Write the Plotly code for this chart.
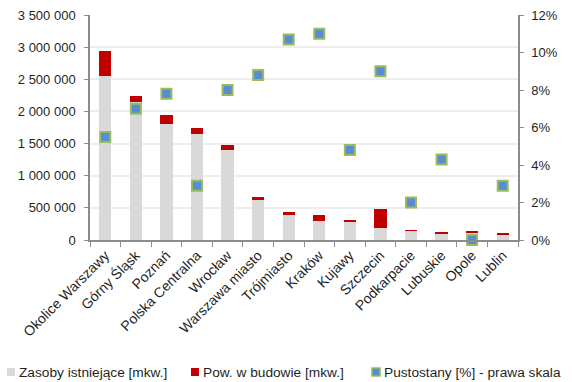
import plotly.graph_objects as go

# Regions (categories)
regions = ["Okolice Warszawy", "Górny Śląsk", "Poznań", "Polska Centralna", "Wrocław",
           "Warszawa miasto", "Trójmiasto", "Kraków", "Kujawy", "Szczecin",
           "Podkarpacie", "Lubuskie", "Opole", "Lublin"]

# Existing stock [m2]
existing = [2550000, 2150000, 1800000, 1645000, 1395000, 617000, 390000, 296000,
            285000, 187000, 145000, 104000, 105000, 89000]

# Under construction [m2]
under_construction = [395000, 95000, 140000, 97000, 88000, 47000, 50000, 93000,
                      26000, 300000, 5000, 26000, 35000, 15000]

# Vacancy rate (right axis)
vacancy = [0.055, 0.070, 0.078, 0.029, 0.080, 0.088, 0.107, 0.110,
           0.048, 0.090, 0.020, 0.043, 0.0, 0.029]

# Legend labels
legend_labels = ["Zasoby istniejące [mkw.]", "Pow. w budowie [mkw.]",
                 "Pustostany [%] - prawa skala"]

font_family = "Liberation Sans, Arial, sans-serif"
axis_grey = "#8C8C8C"
text_color = "#1F1F1F"
grey_bar = "#D9D9D9"
red_bar = "#C00000"
marker_fill = "#558ED5"
marker_edge = "#9BBB59"

W, H = 572, 382
ML, MR, MT, MB = 90, 54, 15, 142

fig = go.Figure()
fig.add_trace(go.Bar(x=regions, y=existing, name=legend_labels[0],
                     marker=dict(color=grey_bar, line=dict(width=0))))
fig.add_trace(go.Bar(x=regions, y=under_construction, name=legend_labels[1],
                     marker=dict(color=red_bar, line=dict(width=0))))
fig.add_trace(go.Scatter(x=regions, y=vacancy, name=legend_labels[2],
                         mode="markers", yaxis="y2", cliponaxis=False,
                         marker=dict(symbol="square", size=10, color=marker_fill,
                                     line=dict(color=marker_edge, width=2))))

# Legend row drawn in paper coordinates below the plot
plot_w = W - ML - MR
plot_h = H - MT - MB


def px_x(x):
    return (x - ML) / plot_w


def px_y(y):
    return (H - MB - y) / plot_h


legend_row_y = 372
legend_items = [
    (7, legend_labels[0], grey_bar, None),
    (191, legend_labels[1], red_bar, None),
    (372, legend_labels[2], marker_fill, marker_edge),
]
shapes = []
annotations = []
for x0, label, fill, edge in legend_items:
    shapes.append(dict(type="rect", xref="paper", yref="paper",
                       x0=px_x(x0), x1=px_x(x0 + 8),
                       y0=px_y(legend_row_y + 4), y1=px_y(legend_row_y - 4),
                       fillcolor=fill,
                       line=dict(color=edge if edge else fill, width=1.5 if edge else 0)))
    annotations.append(dict(text=label, xref="paper", yref="paper",
                            x=px_x(x0 + 10), y=px_y(legend_row_y),
                            xanchor="left", yanchor="middle", showarrow=False,
                            font=dict(size=13.7, color=text_color)))

fig.update_layout(
    width=W, height=H,
    margin=dict(l=ML, r=MR, t=MT, b=MB),
    paper_bgcolor="white", plot_bgcolor="white",
    barmode="stack", bargap=0.6,
    separators=", ",
    font=dict(family=font_family, size=13, color=text_color),
    showlegend=False,
    shapes=shapes,
    annotations=annotations,
    xaxis=dict(type="category", range=[-0.5, len(regions) - 0.5], tickangle=-45,
               showline=True, linecolor=axis_grey,
               linewidth=1.5, ticks="outside", tickson="boundaries", ticklen=5,
               tickcolor=axis_grey, showgrid=False, automargin=False,
               tickfont=dict(size=14)),
    yaxis=dict(range=[0, 3500000], dtick=500000, tickformat=",d", showline=True,
               linecolor=axis_grey, linewidth=1.5, ticks="outside", ticklen=4,
               tickcolor=axis_grey, gridcolor="#EDEDED", gridwidth=1.5,
               ticklabelstandoff=6,
               zeroline=False, automargin=False, tickfont=dict(size=13)),
    yaxis2=dict(range=[0, 0.12], dtick=0.02, tickformat=".0%", overlaying="y",
                side="right", showline=True, linecolor=axis_grey, linewidth=1.5,
                ticks="outside", ticklen=4, tickcolor=axis_grey, showgrid=False,
                ticklabelstandoff=5,
                zeroline=False, automargin=False, tickfont=dict(size=13)),
)

fig.write_html("out.html")
